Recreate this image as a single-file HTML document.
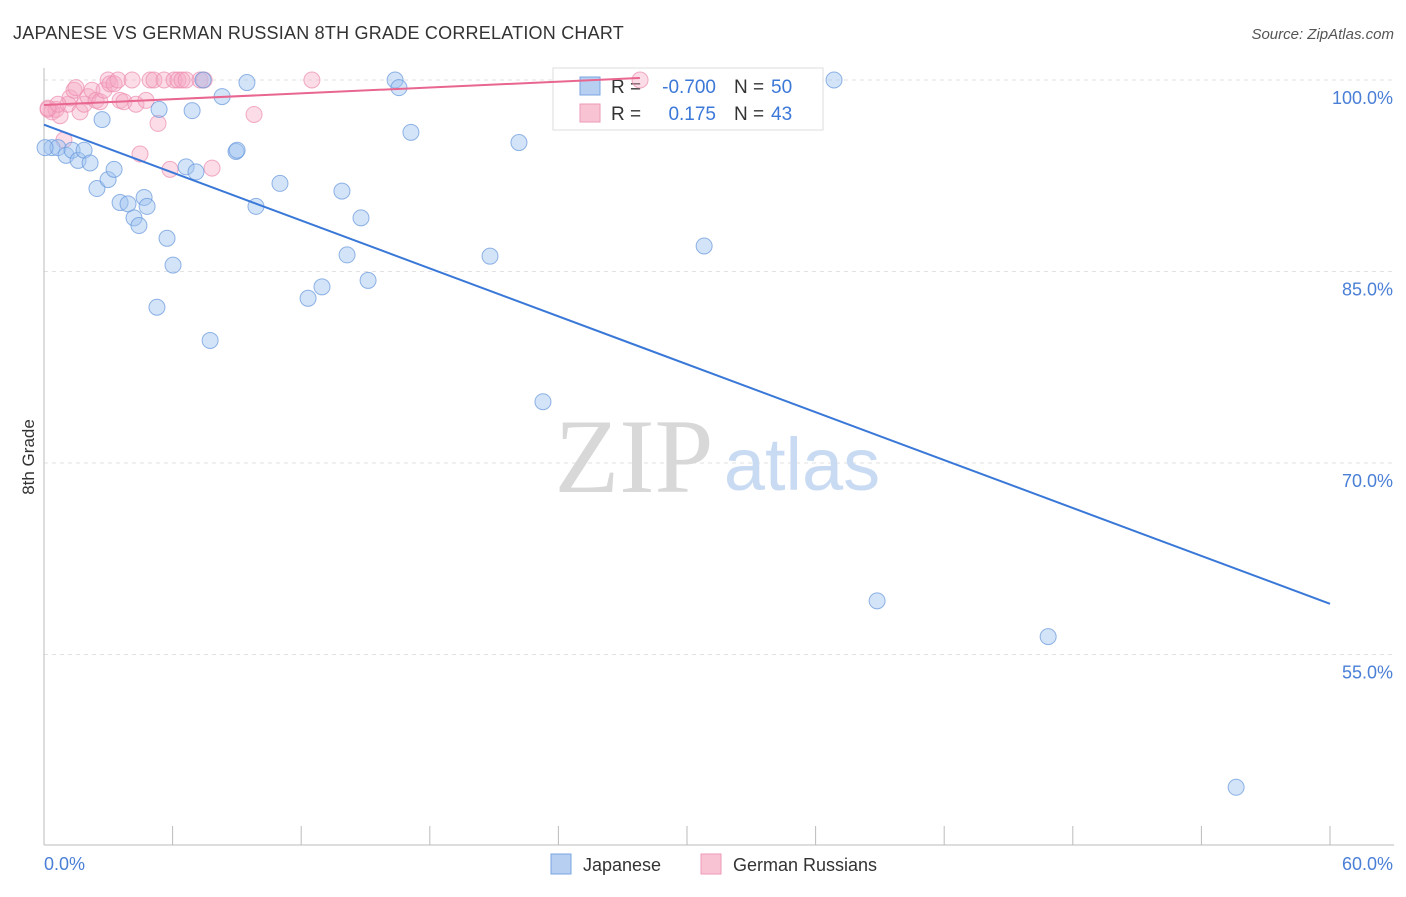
<!DOCTYPE html>
<html><head><meta charset="utf-8"><style>
body{margin:0;background:#fff;font-family:"Liberation Sans",sans-serif;}
svg text{font-family:"Liberation Sans",sans-serif;}
</style></head><body>
<svg id="chart" width="1406" height="892" viewBox="0 0 1406 892">
<text x="13" y="39" font-size="18" fill="#333" letter-spacing="0.22">JAPANESE VS GERMAN RUSSIAN 8TH GRADE CORRELATION CHART</text>
<text x="1394" y="39" font-size="15" fill="#555" text-anchor="end" font-style="italic">Source: ZipAtlas.com</text>
<g id="grid"></g>
<g>
<text x="634" y="492" font-size="106" fill="#d8d8d8" text-anchor="middle" style="font-family:'Liberation Serif',serif">ZIP</text>
<text x="802" y="490" font-size="74" fill="#c9dbf2" text-anchor="middle">atlas</text>
</g>
<g>
<rect x="553" y="68" width="270" height="62" fill="#fff" stroke="#ddd"/>
<rect x="580" y="77" width="20" height="18" fill="#b7d0f2" stroke="#7aa5e0"/>
<rect x="580" y="104" width="20" height="18" fill="#f8c4d4" stroke="#ee9ab8"/>
<text x="611" y="93" font-size="19" fill="#333">R = </text><text x="716" y="93" font-size="19" fill="#3b78d8" text-anchor="end">-0.700</text>
<text x="734" y="93" font-size="19" fill="#333">N = </text><text x="771" y="93" font-size="19" fill="#3b78d8">50</text>
<text x="611" y="120" font-size="19" fill="#333">R = </text><text x="716" y="120" font-size="19" fill="#3b78d8" text-anchor="end">0.175</text>
<text x="734" y="120" font-size="19" fill="#333">N = </text><text x="771" y="120" font-size="19" fill="#3b78d8">43</text>
</g>
<g id="points"></g>
<g id="lines"></g>
<text x="0" y="0" transform="translate(34,457) rotate(-90)" font-size="17" fill="#333" text-anchor="middle">8th Grade</text>
<g>
<rect x="551" y="854" width="20" height="20" fill="#b7d0f2" stroke="#7aa5e0"/>
<text x="583" y="871" font-size="18" fill="#333">Japanese</text>
<rect x="701" y="854" width="20" height="20" fill="#f8c4d4" stroke="#ee9ab8"/>
<text x="733" y="871" font-size="18" fill="#333">German Russians</text>
</g>
</svg>
<script>
const jpX=[0.37,0.65,1.03,1.31,1.59,1.87,2.15,2.47,2.71,2.99,3.27,3.55,3.92,4.20,4.43,4.67,4.81,5.37,5.27,5.74,6.02,6.63,6.91,7.09,7.42,7.75,8.31,8.96,9.01,9.47,9.89,11.01,12.32,12.97,13.90,14.14,14.79,15.12,16.38,16.56,17.12,20.81,22.16,23.28,30.80,36.86,38.87,46.85,55.62,0.05];
const jpY=[94.7,94.7,94.1,94.5,93.7,94.5,93.5,91.5,96.9,92.2,93.0,90.4,90.3,89.2,88.6,90.8,90.1,97.7,82.2,87.6,85.5,93.2,97.6,92.8,100,79.6,98.7,94.4,94.5,99.8,90.1,91.9,82.9,83.8,91.3,86.3,89.2,84.3,100,99.4,95.9,86.2,95.1,74.8,87.0,100,59.2,56.4,44.6,94.7];
const grX=[0.19,0.37,0.56,0.75,0.93,1.12,1.21,1.40,1.49,1.68,1.87,2.05,2.24,2.43,2.61,2.80,2.99,3.08,3.27,3.45,3.55,3.73,4.11,4.29,4.48,4.76,4.95,5.13,5.32,5.60,5.88,6.07,6.25,6.44,6.63,7.28,7.47,7.84,9.80,12.50,27.81,0.19,0.65];
const grY=[97.7,97.5,97.7,97.2,95.3,98.1,98.6,99.2,99.4,97.5,98.1,98.7,99.2,98.4,98.3,99.2,100,99.7,99.7,100,98.4,98.3,100,98.1,94.2,98.4,100,100,96.6,100,93.0,100,100,100,100,100,100,93.1,97.3,100,100,97.8,98.1];
const jpTrend=[96.5,58.97];
const grTrend=[98.04,100.16];
const grTrendEnd=27.8;
const yTicks=[100,85,70,55];
const yTickLabels=["100.0%","85.0%","70.0%","55.0%"];
const xTickVals=[0,6,12,18,24,30,36,42,48,54,60];

const NS="http://www.w3.org/2000/svg";
const X0=44,X1=1330,Y100=80,PXPER=191.5/15;
const sx=v=>X0+(v/60)*(X1-X0);
const sy=v=>Y100+(100-v)*PXPER;
function mk(tag,attrs,parent){const e=document.createElementNS(NS,tag);for(const k in attrs)e.setAttribute(k,attrs[k]);parent.appendChild(e);return e;}
const grid=document.getElementById('grid');
yTicks.forEach((t,i)=>{
  const l=mk('line',{x1:X0,x2:1394,y1:sy(t),y2:sy(t),stroke:'#e2e2e2','stroke-dasharray':'4,4'},grid);
  
  
  const tx=mk('text',{x:1393,y:sy(t)+24,'font-size':18,fill:'#4a7fd6','text-anchor':'end'},grid);
  tx.textContent=yTickLabels[i];
  
  
});
const ax=mk('line',{x1:X0,x2:X0,y1:68,y2:845,stroke:'#bbb'},grid);


const bx=mk('line',{x1:X0,x2:1394,y1:845,y2:845,stroke:'#bbb'},grid);


xTickVals.forEach(v=>{
  const t=mk('line',{x1:sx(v),x2:sx(v),y1:826,y2:845,stroke:'#bbb'},grid);
  
  
});
const xl0=mk('text',{x:44,y:870,'font-size':18,fill:'#4a7fd6'},grid);xl0.textContent='0.0%';


const xl1=mk('text',{x:1393,y:870,'font-size':18,fill:'#4a7fd6','text-anchor':'end'},grid);xl1.textContent='60.0%';



const pts=document.getElementById('points');
grX.forEach((v,i)=>{
  const c=mk('circle',{cx:sx(v),cy:sy(grY[i]),r:8,fill:'rgba(245,168,195,0.4)',stroke:'rgba(236,140,175,0.7)','stroke-width':1},pts);
  
  
});
jpX.forEach((v,i)=>{
  const c=mk('circle',{cx:sx(v),cy:sy(jpY[i]),r:8,fill:'rgba(160,195,240,0.45)',stroke:'rgba(100,150,220,0.7)','stroke-width':1},pts);
  
  
});
const lines=document.getElementById('lines');
const l1=mk('line',{x1:sx(0),y1:sy(jpTrend[0]),x2:sx(60),y2:sy(jpTrend[1]),stroke:'#3a78d8','stroke-width':2},lines);


const l2=mk('line',{x1:sx(0),y1:sy(grTrend[0]),x2:sx(grTrendEnd),y2:sy(grTrend[1]),stroke:'#e8668f','stroke-width':2},lines);


</script>
</body></html>
